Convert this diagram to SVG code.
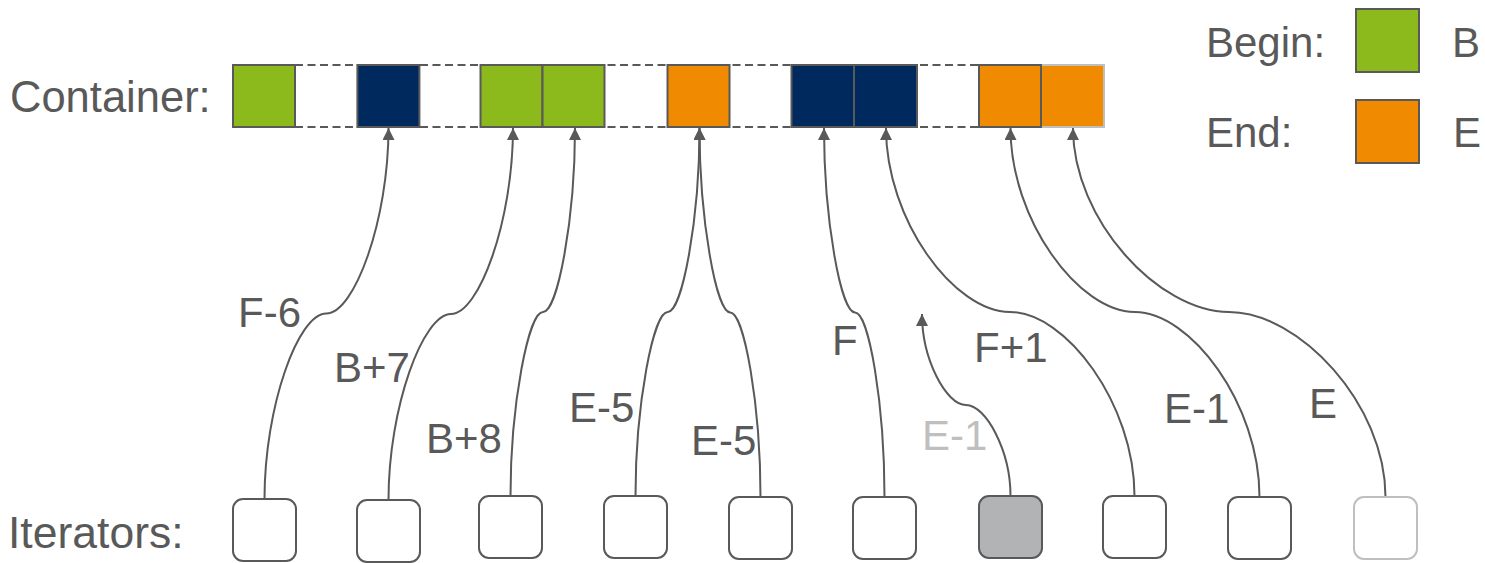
<svg xmlns="http://www.w3.org/2000/svg" width="1485" height="563" viewBox="0 0 1485 563">
  <style>
    text { font-family: "Liberation Sans", Arial, sans-serif; font-size: 42px; fill: #595959; }
    text.faint { fill: #bfbfbf; }
    .cell { stroke: #595959; stroke-width: 2; }
    .green { fill: #8cb91b; }
    .navy { fill: #00295e; }
    .orange { fill: #f08a00; }
    .dash { stroke: #595959; stroke-width: 2.2; stroke-dasharray: 8 4.5; fill: none; }
    .iter { fill: #ffffff; stroke: #595959; stroke-width: 2; }
    .link { fill: none; stroke: #595959; stroke-width: 2; marker-end: url(#head); }
  </style>
  <defs>
    <marker id="head" markerUnits="userSpaceOnUse" markerWidth="13" markerHeight="13" refX="12" refY="6" orient="auto">
      <path d="M0,0 L12,6 L0,12 z" fill="#595959"/>
    </marker>
  </defs>

  <rect width="1485" height="563" fill="#ffffff"/>

  <!-- container -->
  <g id="container">
    <text x="10" y="112" style="font-size:43.5px">Container:</text>
    <line class="dash" x1="295" y1="65" x2="979" y2="65"/>
    <line class="dash" x1="295" y1="127" x2="979" y2="127"/>
    <rect class="cell green" x="233" y="65" width="62" height="62"/>
    <rect class="cell navy" x="357.4" y="65" width="62" height="62"/>
    <rect class="cell green" x="480.5" y="65" width="62" height="62"/>
    <rect class="cell green" x="542.5" y="65" width="62" height="62"/>
    <rect class="cell orange" x="667.5" y="65" width="62" height="62"/>
    <rect class="cell navy" x="791.5" y="65" width="62.5" height="62"/>
    <rect class="cell navy" x="854" y="65" width="63" height="62"/>
    <rect class="cell orange" x="1041" y="65" width="63" height="62" style="stroke:#bfbfbf"/>
    <rect class="cell orange" x="979" y="65" width="62" height="62"/>
  </g>

  <!-- legend -->
  <g id="legend-begin">
    <text x="1206" y="57">Begin:</text>
    <rect class="cell green" x="1356" y="9" width="63" height="63"/>
    <text x="1452" y="57">B</text>
  </g>
  <g id="legend-end">
    <text x="1206" y="147">End:</text>
    <rect class="cell orange" x="1356" y="100" width="63" height="63"/>
    <text x="1453" y="147">E</text>
  </g>

  <!-- connectors -->
  <g id="connectors">
    <path class="link" d="M264.5,499 C264.5,406.25 298.25,313.5 326.25,313.5 C354.25,313.5 388.5,220.75 388.5,128"/>
    <path class="link" d="M388.5,500 C388.5,407 423.1,314 451,314 C478.9,314 513,221 513,128"/>
    <path class="link" d="M510.5,496 C510.5,404 528.6,312 543,312 C557.4,312 575,220 575,128"/>
    <path class="link" d="M635.5,496 C635.5,404 653.45,312 667.75,312 C682.05,312 699.5,220 699.5,128"/>
    <path class="link" d="M760.5,497 C760.5,404.75 744.05,312.5 730.25,312.5 C716.45,312.5 699.5,220.25 699.5,128"/>
    <path class="link" d="M884.5,497 C884.5,404.75 868.95,312.5 855,312.5 C841.05,312.5 824,220.25 824,128"/>
    <path class="link" d="M1010.5,496 C1010.5,450.5 985.8,405 966,405 C946.2,405 922,359.5 922,314"/>
    <path class="link" d="M1134.5,496 C1134.5,404 1065.8,312 1010,312 C954.2,312 886,220 886,128"/>
    <path class="link" d="M1259.5,497 C1259.5,404 1190.65,312 1134.75,312 C1078.85,312 1010.5,220 1010.5,128"/>
    <path class="link" d="M1385.5,497 C1385.5,404 1299.2,312 1229,312 C1158.8,312 1073,220 1073,128"/>
  </g>

  <!-- connector labels -->
  <g id="labels">
    <text x="238" y="327">F-6</text>
    <text x="334" y="382">B+7</text>
    <text x="426" y="453">B+8</text>
    <text x="569" y="422">E-5</text>
    <text x="691" y="455">E-5</text>
    <text x="832" y="355">F</text>
    <text class="faint" x="922" y="450">E-1</text>
    <text x="974" y="362">F+1</text>
    <text x="1164" y="423">E-1</text>
    <text x="1309" y="418">E</text>
  </g>

  <!-- iterators -->
  <g id="iterators">
    <text x="8" y="548" style="font-size:44.5px">Iterators:</text>
    <rect id="it1" class="iter" x="233" y="499" width="63" height="62" rx="10"/>
    <rect id="it2" class="iter" x="357" y="500" width="63" height="62" rx="10"/>
    <rect id="it3" class="iter" x="479" y="496" width="63" height="62" rx="10"/>
    <rect id="it4" class="iter" x="604" y="496" width="63" height="62" rx="10"/>
    <rect id="it5" class="iter" x="729" y="497" width="63" height="62" rx="10"/>
    <rect id="it6" class="iter" x="853" y="497" width="63" height="62" rx="10"/>
    <rect id="it7" class="iter" x="979" y="496" width="63" height="62" rx="10" style="fill:#b2b3b5"/>
    <rect id="it8" class="iter" x="1103" y="496" width="63" height="62" rx="10"/>
    <rect id="it9" class="iter" x="1228" y="497" width="63" height="62" rx="10"/>
    <rect id="it10" class="iter" x="1354" y="497" width="63" height="62" rx="10" style="stroke:#bfbfbf"/>
  </g>
</svg>
